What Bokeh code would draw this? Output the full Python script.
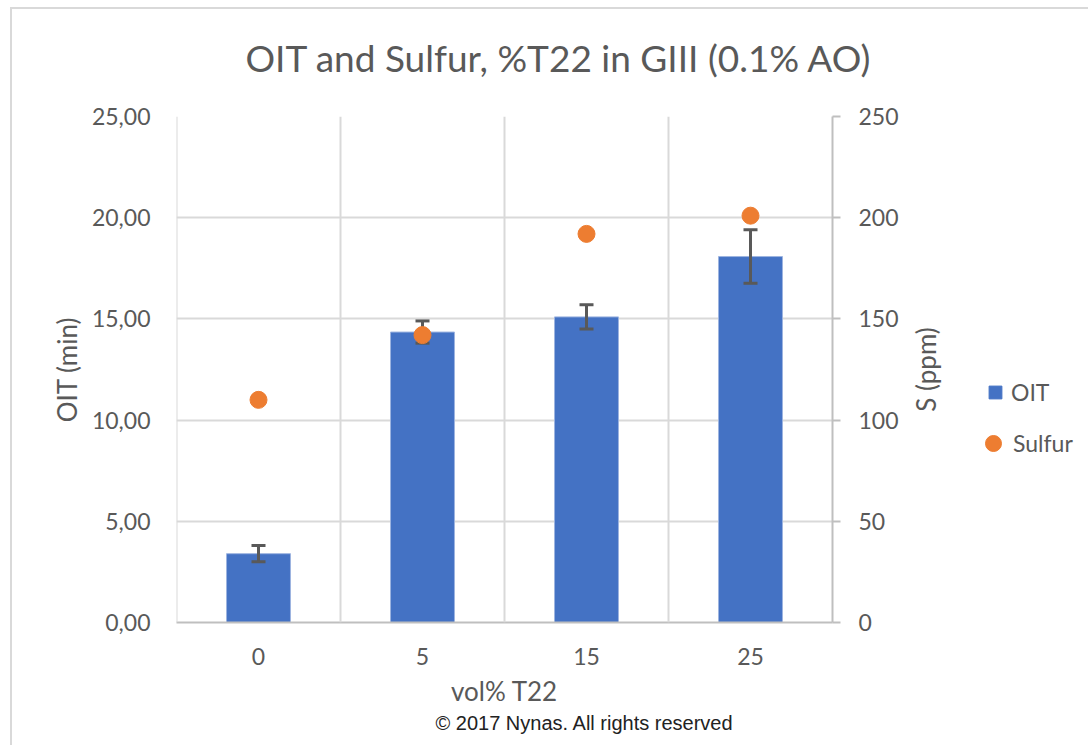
import math
from bokeh.plotting import figure
from bokeh.layouts import row
from bokeh.models import (FactorRange, Range1d, LinearAxis, FixedTicker, Span,
                          Legend, LegendItem, Title, ColumnDataSource, Label)
from bokeh.embed import file_html
from bokeh.resources import INLINE

# ---- data ----
categories = ["0", "5", "15", "25"]
oit_values = [3.40, 14.35, 15.10, 18.08]
oit_errors = [0.40, 0.55, 0.60, 1.32]
sulfur_values = [110, 142, 192, 201]
left_ticks = [0, 5, 10, 15, 20, 25]
left_tick_labels = ["0,00", "5,00", "10,00", "15,00", "20,00", "25,00"]
right_ticks = [0, 50, 100, 150, 200, 250]
series_names = ["OIT", "Sulfur"]

BLUE = "#4472C4"
ORANGE = "#ED7D31"
TXT = "#595959"
GRID = "#d9d9d9"
AXIS = "#bfbfbf"
FONT = "Lato"

MAIN_W = 905
SIDE_W = 1088 - MAIN_W

p = figure(width=MAIN_W, height=745, output_backend="svg", toolbar_location=None,
           x_range=FactorRange(factors=categories, range_padding=0),
           y_range=Range1d(0, 25),
           min_border_left=176, min_border_right=MAIN_W - 832,
           min_border_top=116, min_border_bottom=123)
p.extra_y_ranges = {"s": Range1d(0, 250)}
p.outline_line_color = None
p.background_fill_color = "white"
p.border_fill_alpha = 0

# title
p.title = Title(text="OIT and Sulfur, %T22 in GIII (0.1% AO)", align="left", offset=69,
                standoff=69, vertical_align="top",
                text_font=FONT, text_font_size="37px", text_font_style="normal",
                text_color=TXT)

# grids
p.xgrid.grid_line_color = None
p.ygrid.ticker = FixedTicker(ticks=left_ticks)
p.ygrid.grid_line_color = GRID
p.ygrid.grid_line_width = 2
for loc in range(len(categories)):
    p.add_layout(Span(location=loc, dimension="height", line_color=GRID, line_width=2))

# bars
src = ColumnDataSource(dict(
    x=categories, oit=oit_values,
    upper=[v + e for v, e in zip(oit_values, oit_errors)],
    lower=[v - e for v, e in zip(oit_values, oit_errors)],
    s=sulfur_values))
bars = p.vbar(x="x", top="oit", width=0.39, source=src, fill_color=BLUE,
              line_color="#9db4e0", line_width=1)

# error bars
p.segment(x0="x", y0="lower", x1="x", y1="upper", source=src, line_color=TXT, line_width=3)
p.scatter(x="x", y="upper", source=src, marker="dash", size=14, line_color=TXT, line_width=3)
p.scatter(x="x", y="lower", source=src, marker="dash", size=14, line_color=TXT, line_width=3)

# sulfur points
dots = p.scatter(x="x", y="s", source=src, y_range_name="s", marker="circle", size=17,
                 fill_color=ORANGE, line_color=ORANGE)

# axes
xa = p.xaxis[0]
xa.axis_label = "vol% T22"
xa.axis_line_color = AXIS
xa.axis_line_width = 2
xa.major_tick_line_color = None
xa.minor_tick_line_color = None
xa.major_label_text_font = FONT
xa.major_label_text_font_size = "23px"
xa.major_label_text_color = TXT
xa.major_label_standoff = 19
xa.axis_label_text_font = FONT
xa.axis_label_text_font_size = "26px"
xa.axis_label_text_font_style = "normal"
xa.axis_label_text_color = TXT
xa.axis_label_standoff = 7

ya = p.yaxis[0]
ya.ticker = FixedTicker(ticks=left_ticks)
ya.major_label_overrides = {t: l for t, l in zip(left_ticks, left_tick_labels)}
ya.axis_label = "OIT (min)"
ya.axis_line_color = None
ya.major_tick_line_color = None
ya.minor_tick_line_color = None
ya.major_label_text_font = FONT
ya.major_label_text_font_size = "23px"
ya.major_label_text_color = TXT
ya.major_label_standoff = 20
ya.axis_label_text_font = FONT
ya.axis_label_text_font_size = "26px"
ya.axis_label_text_font_style = "normal"
ya.axis_label_text_color = TXT
ya.axis_label_standoff = 6

ra = LinearAxis(y_range_name="s", ticker=FixedTicker(ticks=right_ticks))
ra.axis_line_color = AXIS
ra.axis_line_width = 2
ra.major_tick_line_color = AXIS
ra.major_tick_line_width = 2
ra.major_tick_out = 8
ra.major_tick_in = 0
ra.minor_tick_line_color = None
ra.major_label_text_font = FONT
ra.major_label_text_font_size = "23px"
ra.major_label_text_color = TXT
ra.major_label_standoff = 18
p.add_layout(ra, "right")

# copyright note
p.add_layout(Title(text="\u00a9 2017 Nynas. All rights reserved", align="left", offset=259,
                   standoff=0,
                   text_font="Liberation Sans", text_font_size="20px",
                   text_font_style="normal", text_color="#222222"), "below")

# ---- side canvas: right axis title + legend ----
p2 = figure(width=SIDE_W, height=745, output_backend="svg", toolbar_location=None,
            x_range=Range1d(0, SIDE_W), y_range=Range1d(0, 1),
            x_axis_type=None, y_axis_type=None,
            min_border_left=0, min_border_right=0, min_border_top=0, min_border_bottom=0)
p2.outline_line_color = None
p2.xgrid.grid_line_color = None
p2.ygrid.grid_line_color = None
p2.border_fill_alpha = 0
p2.background_fill_alpha = 0

p2.add_layout(Label(x=20, y=0.5, text="S (ppm)", angle=math.pi / 2,
                    text_align="center", text_baseline="middle",
                    text_font=FONT, text_font_size="26px", text_color=TXT))

# hidden proxy glyphs that only supply the legend keys
oit_key = p2.scatter(x=[0.5], y=[0.5], marker="square", fill_color=BLUE, line_color=BLUE,
                     visible=False)
sul_key = p2.scatter(x=[0.5], y=[0.5], marker="circle", fill_color=ORANGE,
                     line_color=ORANGE, visible=False)

leg_common = dict(orientation="vertical", margin=0, padding=0, label_standoff=0,
                  label_text_font=FONT, label_text_font_size="23px", label_text_color=TXT,
                  border_line_color=None, background_fill_alpha=0,
                  inactive_fill_alpha=0)
shift = 960 - MAIN_W
leg1 = Legend(items=[LegendItem(label=series_names[0], renderers=[oit_key])],
              location=(19 + shift, 214), glyph_width=32, glyph_height=32, **leg_common)
leg2 = Legend(items=[LegendItem(label=series_names[1], renderers=[sul_key])],
              location=(13 + shift, 159), glyph_width=40, glyph_height=40, **leg_common)
p2.add_layout(leg1, "center")
p2.add_layout(leg2, "center")

# light outer chart frame (top and left edges visible)
layout = row(p, p2, spacing=0,
             styles={"box-shadow": "inset 10px 7px 0 0 #ffffff, inset 12px 9px 0 0 #d9d9d9"})
open("out.html", "w").write(file_html(layout, INLINE))
